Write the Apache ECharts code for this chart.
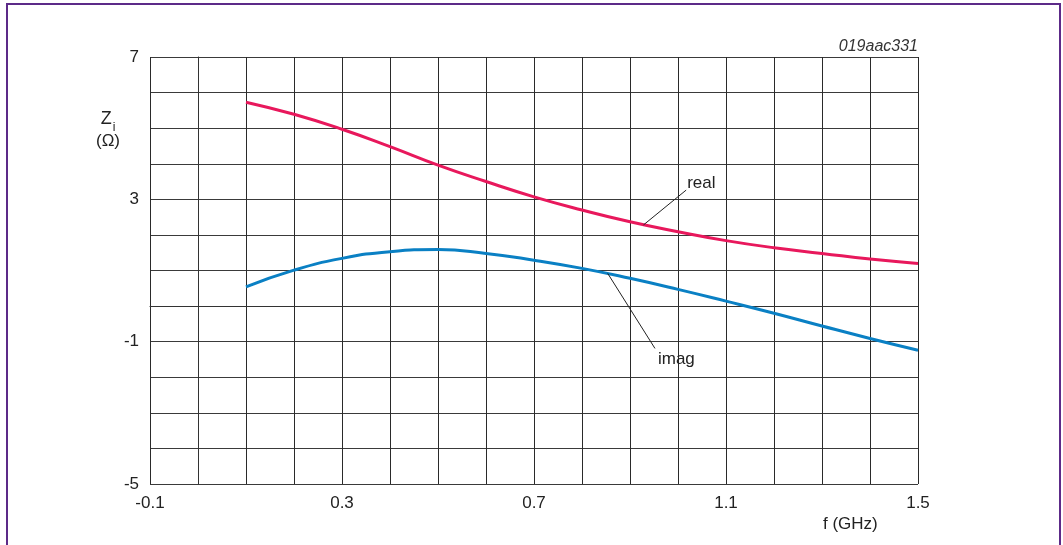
<!DOCTYPE html>
<html>
<head>
<meta charset="utf-8">
<script src="https://cdn.jsdelivr.net/npm/echarts@6/dist/echarts.min.js"></script>
<style>
html,body{margin:0;padding:0;background:#fff;}
#chart{width:1063px;height:545px;}
</style>
</head>
<body>
<div id="chart"></div>
<script>
// Frequency (GHz)
const freq = [0.1, 0.2, 0.3, 0.4, 0.5, 0.6, 0.7, 0.8, 0.9, 1.0, 1.1, 1.2, 1.3, 1.4, 1.5];
// Real part of Zi (Ohm)
const realZ = [5.73, 5.39, 4.97, 4.48, 3.96, 3.50, 3.07, 2.70, 2.37, 2.09, 1.84, 1.64, 1.48, 1.32, 1.20];
// Imaginary part of Zi (Ohm)
const imagZ = [0.54, 1.01, 1.34, 1.53, 1.59, 1.48, 1.29, 1.06, 0.78, 0.47, 0.14, -0.20, -0.56, -0.91, -1.24];
// Tick labels shown
const xTickLabels = [-0.1, 0.3, 0.7, 1.1, 1.5];
const yTickLabels = [-5, -1, 3, 7];
// Leader lines for annotations [x, y]
const realLeader = [[0.928, 2.28], [1.017, 3.26]];
const imagLeader = [[0.8535, 0.92], [0.952, -1.19]];

const FONT = 'Arial, "Liberation Sans", Helvetica, sans-serif';
const chart = echarts.init(document.getElementById('chart'), null, {renderer: 'canvas'});

function near(list, v) { return list.some(t => Math.abs(t - v) < 1e-6); }

const option = {
  backgroundColor: '#fff',
  animation: false,
  grid: {left: 150, top: 57, width: 768, height: 427, containLabel: false},
  xAxis: {
    type: 'value', min: -0.1, max: 1.5, interval: 0.1,
    axisLine: {show: true, lineStyle: {color: '#333', width: 1}},
    axisTick: {show: false},
    splitLine: {show: true, lineStyle: {color: '#2a2a2a', width: 1}},
    axisLabel: {
      margin: 11, color: '#222', fontSize: 17, fontFamily: FONT,
      formatter: v => near(xTickLabels, v) ? String(Math.round(v * 10) / 10) : ''
    }
  },
  yAxis: {
    type: 'value', min: -5, max: 7, interval: 1,
    axisLine: {show: true, lineStyle: {color: '#333', width: 1}},
    axisTick: {show: false},
    splitLine: {show: true, lineStyle: {color: '#3a3a3a', width: 1}},
    axisLabel: {
      margin: 11, color: '#222', fontSize: 17, fontFamily: FONT,
      formatter: v => near(yTickLabels, v) ? String(v) : ''
    }
  },
  series: [
    {
      type: 'line', name: 'real', smooth: 0.5, symbol: 'none',
      data: freq.map((f, i) => [f, realZ[i]]),
      lineStyle: {color: '#e8185c', width: 3}, z: 5
    },
    {
      type: 'line', name: 'imag', smooth: 0.5, symbol: 'none',
      data: freq.map((f, i) => [f, imagZ[i]]),
      lineStyle: {color: '#0a80c4', width: 3}, z: 5
    },
    {
      type: 'line', name: 'realLeader', symbol: 'circle', symbolSize: 0.01, showSymbol: true,
      lineStyle: {color: '#222', width: 1}, itemStyle: {color: 'rgba(0,0,0,0)'},
      data: [
        {value: realLeader[0]},
        {value: realLeader[1], label: {show: true, formatter: 'real', position: [1, -7], align: 'left', verticalAlign: 'middle', color: '#222', fontSize: 17, fontFamily: FONT}}
      ], z: 6
    },
    {
      type: 'line', name: 'imagLeader', symbol: 'circle', symbolSize: 0.01, showSymbol: true,
      lineStyle: {color: '#222', width: 1}, itemStyle: {color: 'rgba(0,0,0,0)'},
      data: [
        {value: imagLeader[0]},
        {value: imagLeader[1], label: {show: true, formatter: 'imag', position: [3, 11], align: 'left', verticalAlign: 'middle', color: '#222', fontSize: 17, fontFamily: FONT}}
      ], z: 6
    }
  ],
  graphic: [
    {type: 'rect', shape: {x: 7, y: 4, width: 1053, height: 600}, style: {fill: 'none', stroke: '#5c2a88', lineWidth: 2}, silent: true, z: 100},
    {type: 'text', right: 1063 - 918, top: 39, style: {text: '019aac331', font: 'italic 16px ' + FONT, fill: '#333', textAlign: 'right'}},
    {type: 'text', left: 823, top: 516, style: {text: 'f (GHz)', font: '17px ' + FONT, fill: '#222', textAlign: 'center'}},
    {type: 'text', x: 108, y: 108, style: {
      text: '{z|Z}{s|i}\n{o|(Ω)}', align: 'center', fill: '#222',
      rich: {
        z: {fontSize: 18, fontFamily: FONT, color: '#222', lineHeight: 22},
        s: {fontSize: 12, fontFamily: FONT, color: '#222', verticalAlign: 'bottom', lineHeight: 16, padding: [0, 0, -4, 1]},
        o: {fontSize: 17, fontFamily: FONT, color: '#222', lineHeight: 22, align: 'center'}
      }
    }}
  ]
};
chart.setOption(option);
</script>
</body>
</html>
